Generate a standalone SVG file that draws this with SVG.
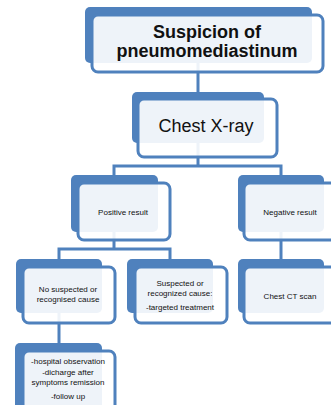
<svg xmlns="http://www.w3.org/2000/svg" width="331" height="405" viewBox="0 0 331 405">
<style>
.back{fill:#4f81bd}
.front{fill:#ffffff;fill-opacity:0.9;stroke:#4f81bd;stroke-width:3}
.conn{fill:none;stroke:#4f81bd;stroke-width:3}
text{font-family:"Liberation Sans",Arial,sans-serif;fill:#111;text-anchor:middle}
.big{font-size:18px}
.bold{font-weight:bold}
.sm{font-size:8px}
</style>
<rect width="331" height="405" fill="#ffffff"/>
<g id="connectors">
<path class="conn" d="M198,63 V92"/>
<path class="conn" d="M198,143 V166"/>
<path class="conn" d="M114,175 V166 H281 V175"/>
<path class="conn" d="M114,232 V249"/>
<path class="conn" d="M59,259 V249 H170 V259"/>
<path class="conn" d="M281,232 V259"/>
<path class="conn" d="M59,313 V343"/>
</g>
<g id="n1">
<rect class="back" x="85" y="7" width="227" height="56" rx="5"/>
<rect class="front" x="92" y="15" width="231" height="57" rx="6"/>
<text class="big bold" x="207" y="38">Suspicion of</text>
<text class="big bold" x="207" y="57">pneumomediastinum</text>
</g>
<g id="n2">
<rect class="back" x="132" y="92" width="132" height="51" rx="5"/>
<rect class="front" x="138" y="99" width="139" height="58" rx="6"/>
<text class="big" x="206" y="132">Chest X-ray</text>
</g>
<g id="n3">
<rect class="back" x="71" y="175" width="87" height="57" rx="5"/>
<rect class="front" x="78" y="183" width="92" height="57" rx="6"/>
<text class="sm" x="123" y="215">Positive result</text>
</g>
<g id="n4">
<rect class="back" x="238" y="175" width="86" height="57" rx="5"/>
<rect class="front" x="244" y="183" width="92" height="57" rx="6"/>
<text class="sm" x="290" y="215">Negative result</text>
</g>
<g id="n5">
<rect class="back" x="16" y="259" width="86" height="54" rx="5"/>
<rect class="front" x="23" y="267" width="92" height="56" rx="6"/>
<text class="sm" x="68" y="292">No suspected  or</text>
<text class="sm" x="68" y="302">recognised cause</text>
</g>
<g id="n6">
<rect class="back" x="127" y="259" width="86" height="54" rx="5"/>
<rect class="front" x="135" y="267" width="92" height="56" rx="6"/>
<text class="sm" x="180" y="286">Suspected or</text>
<text class="sm" x="180" y="296">recognized cause:</text>
<text class="sm" x="180" y="310">-targeted treatment</text>
</g>
<g id="n7">
<rect class="back" x="238" y="259" width="86" height="54" rx="5"/>
<rect class="front" x="244" y="267" width="92" height="56" rx="6"/>
<text class="sm" x="290" y="299">Chest CT scan</text>
</g>
<g id="n8">
<rect class="back" x="15" y="343" width="87" height="70" rx="5"/>
<rect class="front" x="23" y="351" width="92" height="70" rx="6"/>
<text class="sm" x="68" y="364">-hospital observation</text>
<text class="sm" x="68" y="375">-dicharge after</text>
<text class="sm" x="68" y="385">symptoms  remission</text>
<text class="sm" x="68" y="399">-follow  up</text>
</g>
</svg>
